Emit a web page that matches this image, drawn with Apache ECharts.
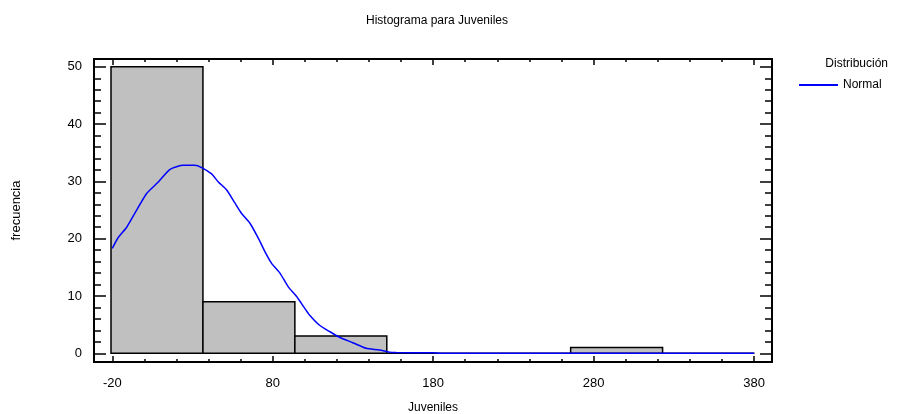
<!DOCTYPE html>
<html>
<head>
<meta charset="utf-8">
<script src="https://cdn.jsdelivr.net/npm/echarts@6/dist/echarts.min.js"></script>
<style>
html,body{margin:0;padding:0;background:#fff;}
#chart{width:900px;height:414px;}
</style>
</head>
<body>
<div id="chart"></div>
<script>
// ---- data ----
const binLower = [-20.8, 36.5, 93.8, 151.1, 208.4, 265.7, 323.0];
const binUpper = [36.5, 93.8, 151.1, 208.4, 265.7, 323.0, 380.3];
const frequencies = [50, 9, 3, 0, 0, 1, 0];

const curveX = [-20, -16.3, -11, -4.8, 1.4, 8.7, 16, 24.2, 31.5, 35.7, 41.9, 46.1, 51.3, 56.5, 60.6, 65.8, 71, 75.2, 79.3, 84.5, 89.7, 94.9, 100.1, 102.9, 109.2, 115.4, 121.6, 129.9, 138.2, 146.5, 152.8, 157, 180, 185, 200, 250, 300, 350, 380];
const curveY = [18.3, 20.2, 22.0, 25.0, 27.9, 29.9, 32.1, 32.8, 32.8, 32.4, 31.3, 29.9, 28.5, 26.2, 24.4, 22.7, 20.1, 17.7, 15.7, 14.0, 11.6, 9.9, 7.8, 6.7, 4.9, 3.8, 2.8, 1.85, 0.87, 0.58, 0.17, 0.12, 0.1, 0.02, 0.01, 0, 0, 0, 0];

const xMajorTicks = [-20, 80, 180, 280, 380];
const xMinorTicks = [-20, 0, 20, 40, 60, 80, 100, 120, 140, 160, 180, 200, 220, 240, 260, 280, 300, 320, 340, 360, 380];
const yMajorTicks = [0, 10, 20, 30, 40, 50];
const yMinorTicks = [0, 2, 4, 6, 8, 10, 12, 14, 16, 18, 20, 22, 24, 26, 28, 30, 32, 34, 36, 38, 40, 42, 44, 46, 48, 50];

const titleText = 'Histograma para Juveniles';
const xName = 'Juveniles';
const yName = 'frecuencia';
const legendTitle = 'Distribución';
const seriesName = 'Normal';

// ---- chart ----
const FONT = 'Arial, "Liberation Sans", sans-serif';
const X_MIN = -31.4, X_MAX = 391.2;
const Y_MIN = -1.52, Y_MAX = 51.36;

const histData = binLower.map((lo, i) => [lo, binUpper[i], frequencies[i]]);
const curveData = curveX.map((x, i) => [x, curveY[i]]);

function xAxisDef(pos, ticks, len, showLine, showLabel, extra) {
  return Object.assign({
    type: 'value', position: pos, min: X_MIN, max: X_MAX,
    axisLine: { show: showLine, onZero: false, lineStyle: { color: '#000', width: 2 } },
    axisTick: { show: true, inside: true, length: len, customValues: ticks, lineStyle: { color: '#000', width: 1.5 } },
    axisLabel: showLabel ? { show: true, customValues: ticks, margin: 15, fontSize: 13, color: '#000', fontFamily: FONT } : { show: false },
    splitLine: { show: false }
  }, extra || {});
}
function yAxisDef(pos, ticks, len, showLine, showLabel, extra) {
  return Object.assign({
    type: 'value', position: pos, min: Y_MIN, max: Y_MAX,
    axisLine: { show: showLine, onZero: false, lineStyle: { color: '#000', width: 2 } },
    axisTick: { show: true, inside: true, length: len, customValues: ticks, lineStyle: { color: '#000', width: 1.5 } },
    axisLabel: showLabel ? { show: true, customValues: ticks, margin: 12, fontSize: 13, color: '#000', fontFamily: FONT } : { show: false },
    splitLine: { show: false }
  }, extra || {});
}

const chart = echarts.init(document.getElementById('chart'), null, { renderer: 'canvas' });
chart.setOption({
  animation: false,
  backgroundColor: '#fff',
  textStyle: { fontFamily: FONT },
  title: {
    text: titleText, left: 432, top: 10, textAlign: 'center',
    textStyle: { fontSize: 12, fontWeight: 'normal', color: '#000', fontFamily: FONT }
  },
  legend: {
    data: [seriesName], left: 798, top: 79, padding: 0, itemWidth: 39, itemHeight: 14, itemGap: 10,
    itemStyle: { opacity: 0 },
    textStyle: { fontSize: 12, color: '#000', fontFamily: FONT }
  },
  graphic: [{
    type: 'text', right: 12, top: 58,
    style: { text: legendTitle, fontSize: 12, fill: '#000', fontFamily: FONT }
  }],
  grid: { left: 94, top: 59, right: 128, bottom: 52, containLabel: false, outerBoundsMode: 'none' },
  xAxis: [
    xAxisDef('bottom', xMajorTicks, 6, true, true, {
      name: xName, nameLocation: 'middle', nameGap: 40,
      nameTextStyle: { fontSize: 12, color: '#000', fontFamily: FONT }
    }),
    xAxisDef('bottom', xMinorTicks, 3, false, false),
    xAxisDef('top', xMajorTicks, 6, true, false),
    xAxisDef('top', xMinorTicks, 3, false, false)
  ],
  yAxis: [
    yAxisDef('left', yMajorTicks, 12, true, true, {
      name: yName, nameLocation: 'middle', nameGap: 71, nameRotate: 90,
      nameTextStyle: { fontSize: 13, color: '#000', fontFamily: FONT }
    }),
    yAxisDef('left', yMinorTicks, 7, false, false),
    yAxisDef('right', yMajorTicks, 12, true, false),
    yAxisDef('right', yMinorTicks, 7, false, false)
  ],
  series: [
    {
      type: 'custom', name: 'hist', xAxisIndex: 0, yAxisIndex: 0,
      data: histData, silent: true,
      renderItem: function (params, api) {
        const p0 = api.coord([api.value(0), api.value(2)]);
        const p1 = api.coord([api.value(1), 0]);
        return {
          type: 'rect',
          shape: { x: p0[0], y: p0[1], width: p1[0] - p0[0], height: p1[1] - p0[1] },
          style: { fill: '#c0c0c0', stroke: '#000', lineWidth: 1.5 }
        };
      },
      encode: { x: [0, 1], y: 2 },
      z: 2
    },
    {
      type: 'line', name: seriesName, xAxisIndex: 0, yAxisIndex: 0,
      data: curveData, showSymbol: false, symbol: 'none', smooth: 0.2,
      lineStyle: { color: '#0000ff', width: 1.5 }, itemStyle: { color: '#0000ff' },
      z: 3
    }
  ]
});
</script>
</body>
</html>
